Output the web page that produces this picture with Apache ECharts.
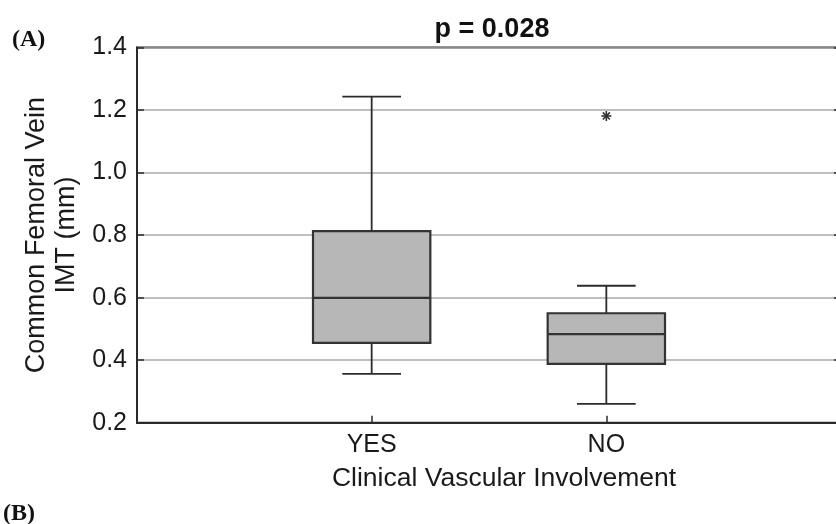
<!DOCTYPE html>
<html>
<head>
<meta charset="utf-8">
<script src="https://cdn.jsdelivr.net/npm/echarts@6/dist/echarts.min.js"></script>
<style>html,body{margin:0;padding:0;background:#fff}#c{width:836px;height:524px}</style>
</head>
<body>
<div id="c"></div>
<script>
// ---- data ----
const categories = ['YES', 'NO'];
const whiskerLow  = [0.356, 0.260];
const q1          = [0.455, 0.388];
const median      = [0.599, 0.483];
const q3          = [0.813, 0.550];
const whiskerHigh = [1.243, 0.638];
const outlierCategory = ['NO'];
const outlierValue    = [1.181];
const yTickValues = [0.2, 0.4, 0.6, 0.8, 1.0, 1.2, 1.4];
const titleText = 'p = 0.028';
const xName = 'Clinical Vascular Involvement';
const yName = 'Common Femoral Vein\nIMT (mm)';

// ---- build ----
const xLabels = [''].concat(categories, ['']);
const boxData = categories.map((c, i) => [i + 1, whiskerLow[i], q1[i], median[i], q3[i], whiskerHigh[i]]);
const outData = outlierCategory.map((c, i) => [categories.indexOf(c) + 1, outlierValue[i]]);

const FONT = "'Liberation Sans', Arial, Helvetica, sans-serif";
const DARK = '#2b2b2b';

const chart = echarts.init(document.getElementById('c'), null, {renderer: 'canvas'});
chart.setOption({
  backgroundColor: '#ffffff',
  animation: false,
  title: {
    text: titleText, left: 487, top: 11, textAlign: 'center',
    textStyle: {fontSize: 27, fontWeight: 'bold', color: '#111', fontFamily: FONT}
  },
  graphic: [
    {type: 'text', left: 12, top: 28, style: {text: '(A)', font: "bold 24px 'Liberation Serif', 'Times New Roman', serif", fill: '#111'}},
    {type: 'text', left: 3, top: 502, style: {text: '(B)', font: "bold 24px 'Liberation Serif', 'Times New Roman', serif", fill: '#111'}}
  ],
  grid: {left: 137, top: 47.5, width: 704, height: 375.2, outerBoundsMode: 'none', containLabel: false,
    show: true, borderColor: DARK, borderWidth: 2, backgroundColor: 'transparent'},
  xAxis: {
    type: 'value', min: 0, max: 3, interval: 1,
    axisLine: {show: true, onZero: false, lineStyle: {color: DARK, width: 2}},
    axisTick: {show: true, inside: true, length: 7, lineStyle: {color: DARK, width: 1.5}},
    axisLabel: {formatter: v => xLabels[v] || '', fontSize: 25, color: '#1a1a1a', fontFamily: FONT, margin: 10},
    splitLine: {show: false},
    name: xName, nameLocation: 'middle', nameGap: 42,
    nameTextStyle: {fontSize: 26.5, color: '#1a1a1a', fontFamily: FONT, padding: [0, 0, 0, 30]}
  },
  yAxis: [{
    type: 'value', min: yTickValues[0], max: yTickValues[yTickValues.length - 1], interval: 0.2,
    axisLine: {show: true, lineStyle: {color: DARK, width: 2}},
    axisTick: {show: true, inside: true, length: 7, lineStyle: {color: DARK, width: 1.5}},
    axisLabel: {formatter: v => v.toFixed(1), fontSize: 25, color: '#1a1a1a', fontFamily: FONT, margin: 10},
    splitLine: {show: true, lineStyle: {color: '#aaaaaa', width: 1.6}},
    name: yName, nameLocation: 'middle', nameGap: 55,
    nameTextStyle: {fontSize: 27, color: '#1a1a1a', fontFamily: FONT, lineHeight: 30, align: 'center'}
  }, {
    type: 'value', position: 'right', min: yTickValues[0], max: yTickValues[yTickValues.length - 1], interval: 0.2,
    axisLine: {show: true, lineStyle: {color: DARK, width: 2}},
    axisTick: {show: true, inside: true, length: 7, lineStyle: {color: DARK, width: 1.5}},
    axisLabel: {show: false}, splitLine: {show: false}
  }],
  series: [{
    type: 'custom',
    data: boxData,
    encode: {x: 0, y: [1, 2, 3, 4, 5]},
    renderItem: function (params, api) {
      const x = api.value(0);
      const lo = api.coord([x, api.value(1)]);
      const b1 = api.coord([x, api.value(2)]);
      const md = api.coord([x, api.value(3)]);
      const b3 = api.coord([x, api.value(4)]);
      const hi = api.coord([x, api.value(5)]);
      const unit = api.size([1, 0])[0];
      const bw = unit * 0.5, cw = unit * 0.25;
      const cx = lo[0];
      const ls = {stroke: DARK, lineWidth: 1.8};
      return {
        type: 'group',
        children: [
          {type: 'line', shape: {x1: cx, y1: lo[1], x2: cx, y2: b1[1]}, style: ls},
          {type: 'line', shape: {x1: cx, y1: b3[1], x2: cx, y2: hi[1]}, style: ls},
          {type: 'line', shape: {x1: cx - cw / 2, y1: lo[1], x2: cx + cw / 2, y2: lo[1]}, style: ls},
          {type: 'line', shape: {x1: cx - cw / 2, y1: hi[1], x2: cx + cw / 2, y2: hi[1]}, style: ls},
          {type: 'rect', shape: {x: cx - bw / 2, y: b3[1], width: bw, height: b1[1] - b3[1]},
            style: {fill: '#b7b7b7', stroke: '#333333', lineWidth: 2.2}},
          {type: 'line', shape: {x1: cx - bw / 2, y1: md[1], x2: cx + bw / 2, y2: md[1]}, style: {stroke: '#333333', lineWidth: 2.2}}
        ]
      };
    }
  }, {
    type: 'custom',
    data: outData,
    encode: {x: 0, y: 1},
    renderItem: function (params, api) {
      const p = api.coord([api.value(0), api.value(1)]);
      const r = 5, d = r * 0.707;
      const ls = {stroke: '#333333', lineWidth: 1.6};
      return {
        type: 'group',
        children: [
          {type: 'line', shape: {x1: p[0] - r, y1: p[1], x2: p[0] + r, y2: p[1]}, style: ls},
          {type: 'line', shape: {x1: p[0], y1: p[1] - r, x2: p[0], y2: p[1] + r}, style: ls},
          {type: 'line', shape: {x1: p[0] - d, y1: p[1] - d, x2: p[0] + d, y2: p[1] + d}, style: ls},
          {type: 'line', shape: {x1: p[0] - d, y1: p[1] + d, x2: p[0] + d, y2: p[1] - d}, style: ls}
        ]
      };
    }
  }]
});
</script>
</body>
</html>
